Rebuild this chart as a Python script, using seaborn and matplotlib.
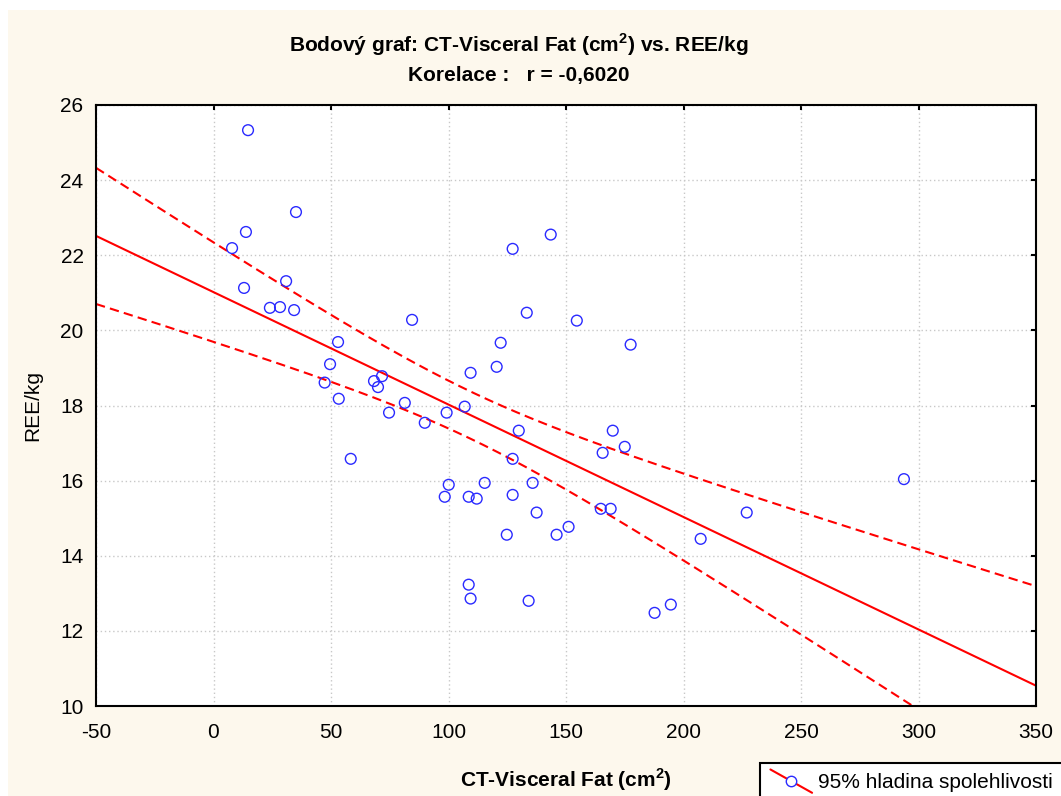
import numpy as np
import pandas as pd
import matplotlib
matplotlib.use('Agg')
import matplotlib.pyplot as plt
import seaborn as sns
from matplotlib.patches import Rectangle
from matplotlib.lines import Line2D
from matplotlib.legend_handler import HandlerBase

# CT visceral fat (cm2) and REE/kg
visceral_fat = [14.7, 7.9, 13.8, 35.1, 13.0, 30.9, 24.0, 28.3, 34.3, 84.5,
                53.0, 49.6, 47.3, 53.3, 68.3, 70.0, 71.7, 74.7, 81.4, 89.9,
                58.4, 99.2, 106.9, 109.4, 122.2, 120.5, 127.3, 143.5, 133.3, 154.6,
                177.5, 129.9, 127.3, 169.9, 175.0, 165.6, 100.1, 98.4, 108.6, 112.0,
                115.4, 127.3, 135.8, 137.5, 124.8, 146.0, 151.1, 164.8, 169.0, 108.6,
                109.4, 134.1, 187.7, 194.6, 207.3, 226.9, 293.8]
ree_kg = [25.33, 22.19, 22.62, 23.15, 21.13, 21.31, 20.60, 20.62, 20.54, 20.28,
          19.69, 19.10, 18.61, 18.18, 18.65, 18.49, 18.78, 17.81, 18.07, 17.54,
          16.58, 17.81, 17.97, 18.87, 19.67, 19.03, 22.17, 22.55, 20.47, 20.26,
          19.62, 17.33, 16.58, 17.33, 16.90, 16.74, 15.89, 15.57, 15.57, 15.52,
          15.94, 15.62, 15.94, 15.15, 14.56, 14.56, 14.77, 15.25, 15.25, 13.23,
          12.86, 12.80, 12.48, 12.70, 14.45, 15.15, 16.04]

x_ticks = [-50, 0, 50, 100, 150, 200, 250, 300, 350]
y_ticks = [10, 12, 14, 16, 18, 20, 22, 24, 26]

title_1 = 'Bodový graf: CT-Visceral Fat (cm$^\\mathbf{2}$) vs. REE/kg'
title_2 = 'Korelace :   r = -0,6020'
x_label = 'CT-Visceral Fat (cm$^\\mathbf{2}$)'
y_label = 'REE/kg'
legend_label = '95% hladina spolehlivosti'


class DiagonalHandler(HandlerBase):
    # red diagonal line with an open blue circle, like the original legend key
    def create_artists(self, legend, orig_handle, xdescent, ydescent,
                       width, height, fontsize, trans):
        x0, y0 = -xdescent, -ydescent
        line = Line2D([x0, x0 + width], [y0 + height * 1.3, y0 - height * 0.3],
                      color='red', lw=1.5, transform=trans)
        mark = Line2D([x0 + width / 2], [y0 + height / 2], marker='o', ls='none',
                      mfc='white', mec='#2a2aff', mew=1.0, ms=7.5, transform=trans)
        return [line, mark]


def make_chart():
    sns.set_style('white')
    plt.rcParams['font.family'] = ['Liberation Sans', 'DejaVu Sans']
    plt.rcParams['mathtext.fontset'] = 'custom'
    plt.rcParams['mathtext.rm'] = 'Liberation Sans'
    plt.rcParams['mathtext.bf'] = 'Liberation Sans:bold'
    plt.rcParams['axes.unicode_minus'] = False
    for key in ['text.color', 'axes.labelcolor', 'xtick.color', 'ytick.color']:
        plt.rcParams[key] = 'black'

    df = pd.DataFrame({'fat': visceral_fat, 'ree': ree_kg})

    # least squares fit with 95% confidence band for the mean
    x = df['fat'].to_numpy()
    y = df['ree'].to_numpy()
    n = len(x)
    slope, intercept = np.polyfit(x, y, 1)
    resid = y - (intercept + slope * x)
    s = np.sqrt(np.sum(resid ** 2) / (n - 2))
    sxx = np.sum((x - x.mean()) ** 2)
    t_crit = 2.004  # t(0.975, 55)
    grid = np.linspace(-50, 350, 200)
    fit = intercept + slope * grid
    half = t_crit * s * np.sqrt(1 / n + (grid - x.mean()) ** 2 / sxx)
    band = pd.DataFrame({'x': grid, 'fit': fit, 'lo': fit - half, 'hi': fit + half})

    fig = plt.figure(figsize=(10.61, 7.96), dpi=100, facecolor='white')
    fig.add_artist(Rectangle((8 / 1061, 0), 1, 1 - 10 / 796, transform=fig.transFigure,
                             facecolor='#fdf8ed', edgecolor='none', zorder=-1))
    ax = fig.add_axes([96 / 1061, 1 - 706 / 796, 940 / 1061, 601 / 796])
    ax.set_facecolor('white')

    ax.grid(True, color='#c8c8c8', linestyle=(0, (1, 2)), linewidth=1.0)
    ax.set_axisbelow(True)

    sns.lineplot(data=band, x='x', y='fit', ax=ax, color='red', lw=1.5, sort=False)
    sns.lineplot(data=band, x='x', y='hi', ax=ax, color='red', lw=1.5, sort=False,
                 linestyle=(0, (4.5, 2.5)))
    sns.lineplot(data=band, x='x', y='lo', ax=ax, color='red', lw=1.5, sort=False,
                 linestyle=(0, (4.5, 2.5)))
    sns.scatterplot(data=df, x='fat', y='ree', ax=ax, marker='o', s=60,
                    facecolor='none', edgecolor='#2a2aff', linewidth=1.0, zorder=3)

    ax.set_xlim(-50, 350)
    ax.set_ylim(10, 26)
    ax.set_xticks(x_ticks)
    ax.set_yticks(y_ticks)
    ax.tick_params(direction='in', length=3.5, width=1.5, labelsize=15,
                   top=True, right=True, color='black', labelcolor='black')
    ax.tick_params(axis='x', pad=12)
    ax.tick_params(axis='y', pad=9)
    for sp in ax.spines.values():
        sp.set_linewidth(1.5)
        sp.set_color('black')

    ax.set_xlabel(x_label, fontsize=15, fontweight='bold', color='black')
    ax.xaxis.set_label_coords(0.5, -0.10)
    ax.set_ylabel(y_label, fontsize=15, color='black')
    ax.yaxis.set_label_coords(-0.057, 0.5)

    fig.text(519 / 1061, 1 - 45 / 796, title_1, ha='center', va='center',
             fontsize=15, fontweight='bold', color='black')
    fig.text(519 / 1061, 1 - 75 / 796, title_2, ha='center', va='center',
             fontsize=15, fontweight='bold', color='black')

    handle = Line2D([], [], color='red')
    leg = fig.legend([handle], [legend_label], handler_map={Line2D: DiagonalHandler()},
                     loc='upper left', bbox_to_anchor=(760 / 1061, 1 - 763 / 796),
                     fontsize=15, frameon=True, fancybox=False, framealpha=1,
                     edgecolor='black', facecolor='white', handlelength=2.0,
                     handletextpad=0.3, borderpad=0.5, borderaxespad=0,
                     labelcolor='black')
    leg.get_frame().set_linewidth(1.5)

    fig.savefig('out.png', dpi=100, facecolor=fig.get_facecolor())
    plt.close(fig)


if __name__ == '__main__':
    make_chart()
